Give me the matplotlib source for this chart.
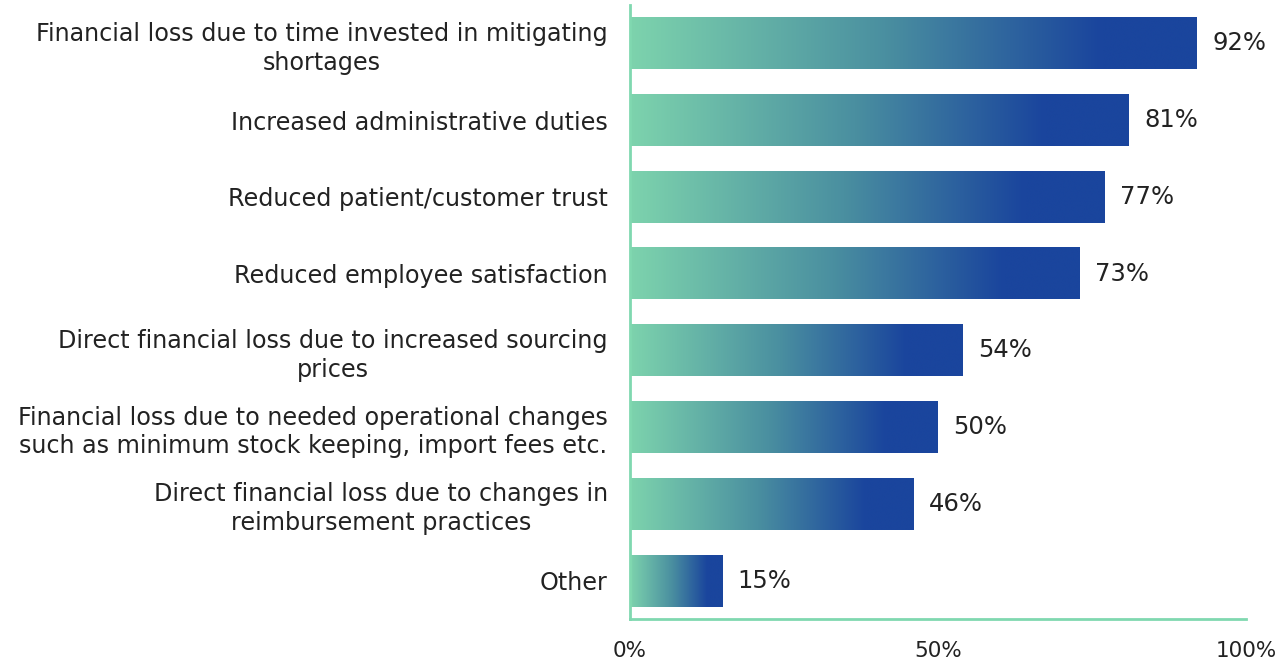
import numpy as np
import matplotlib.pyplot as plt
from matplotlib.colors import LinearSegmentedColormap

# Data
categories = [
    "Financial loss due to time invested in mitigating\nshortages",
    "Increased administrative duties",
    "Reduced patient/customer trust",
    "Reduced employee satisfaction",
    "Direct financial loss due to increased sourcing\nprices",
    "Financial loss due to needed operational changes\nsuch as minimum stock keeping, import fees etc.",
    "Direct financial loss due to changes in\nreimbursement practices",
    "Other",
]
values = [92, 81, 77, 73, 54, 50, 46, 15]
x_ticks = [0, 50, 100]

plt.rcParams['font.family'] = ['DejaVu Sans']

fig = plt.figure(figsize=(12.86, 6.66), dpi=100)
ax = fig.add_axes([0.4899, 0.0706, 0.4790, 0.922])

# gradient: light green -> dark blue, solid for the last ~17% of each bar
cmap = LinearSegmentedColormap.from_list(
    "grad", [(0.0, "#7dd3ad"), (0.45, "#4a8fa0"), (0.83, "#1a459d"), (1.0, "#1a459d")])
grad = np.linspace(0, 1, 256).reshape(1, -1)

bar_h = 0.675
y_pos = np.arange(len(categories))
for y, v in zip(y_pos, values):
    ax.imshow(grad, cmap=cmap, aspect='auto', interpolation='bicubic',
              extent=[0, v, y + bar_h / 2, y - bar_h / 2], zorder=2)
    ax.text(v + 2.5, y, f"{v}%", va='center', ha='left', fontsize=17.5, color='#222222')

ax.set_xlim(0, 100)
ax.set_ylim(len(categories) - 0.5, -0.5)
ax.set_yticks(y_pos)
ax.set_yticklabels(categories, fontsize=17.2, color='#222222', linespacing=1.25)
for t in ax.get_yticklabels():
    t.set_multialignment('center')
ax.set_xticks(x_ticks)
ax.set_xticklabels([f"{t}%" for t in x_ticks], fontsize=15.5, color='#222222')
ax.tick_params(axis='y', length=0, pad=16)
ax.tick_params(axis='x', length=0, pad=16)

for s in ['top', 'right']:
    ax.spines[s].set_visible(False)
for s in ['left', 'bottom']:
    ax.spines[s].set_color('#80d8b0')
    ax.spines[s].set_linewidth(2)

fig.savefig("out.png", dpi=100)
